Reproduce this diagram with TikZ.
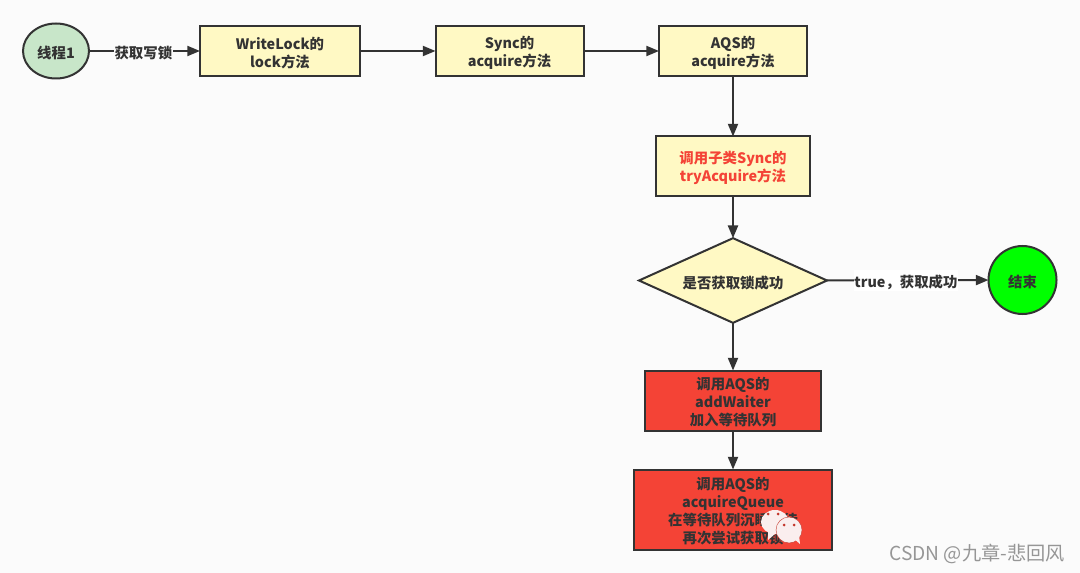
\documentclass[tikz,border=0pt]{standalone}
\usepackage{fontspec}
\setmainfont{Noto Sans CJK SC}
\usepackage{tikz}
\usetikzlibrary{shapes.geometric,arrows.meta,positioning}
\newcommand{\topgap}{\rule{0pt}{11.8pt}}
\definecolor{pagegrey}{RGB}{251,251,251}
\definecolor{inkgrey}{RGB}{51,51,51}
\definecolor{boxyellow}{RGB}{255,249,196}
\definecolor{softgreen}{RGB}{200,230,201}
\definecolor{hotred}{RGB}{244,67,54}
\definecolor{endgreen}{RGB}{0,255,0}
\definecolor{markgrey}{RGB}{150,150,150}
\definecolor{bubble}{RGB}{250,238,238}

\begin{document}
\begin{tikzpicture}[x=0.75pt,y=-0.75pt,font=\bfseries\fontsize{10.8pt}{13.5pt}\selectfont,text=inkgrey,
  base/.style={draw=inkgrey,line width=1.5pt,align=center,inner sep=0pt,outer sep=0pt},
  yel/.style={base,rectangle,fill=boxyellow,minimum height=37.5pt},
  redbox/.style={base,rectangle,fill=hotred,minimum height=45pt},
  arr/.style={-{Triangle[length=9.5pt,width=7.5pt]},line width=1.5pt,draw=inkgrey},
  lbl/.style={fill=#1,inner sep=0.5pt,text=inkgrey}]
\useasboundingbox[fill=pagegrey] (0,0) rectangle (1080,573);
\node[base,ellipse,fill=softgreen,minimum width=49.5pt,minimum height=41.25pt,execute at begin node=\rule{0pt}{13pt}] (thread) at (56,51) {线程1};
\node[yel,minimum width=120pt] (wlock) at (280,51) {\topgap WriteLock的\\lock方法};
\node[yel,minimum width=111pt] (sync) at (509.5,51) {\topgap Sync的\\acquire方法};
\node[yel,minimum width=111pt] (aqs) at (733,51) {\topgap AQS的\\acquire方法};
\node[yel,minimum width=115pt,minimum height=45pt,text=hotred] (tryacq) at (733,166.5) {\topgap 调用子类Sync的\\tryAcquire方法};
\node[base,diamond,aspect=2.2,fill=boxyellow,minimum width=141pt,minimum height=63.5pt,execute at begin node=\rule{0pt}{13pt}] (ok) at (733,280.5) {是否获取锁成功};
\node[base,circle,fill=endgreen,minimum size=51pt,execute at begin node=\rule{0pt}{13pt}] (fin) at (1022.5,280) {结束};
\node[redbox,minimum width=132pt] (waiter) at (733,400.5) {\topgap 调用AQS的\\addWaiter\\加入等待队列};
\node[redbox,minimum width=148.5pt,minimum height=60pt] (queue) at (733,509.5) {\topgap 调用AQS的\\acquireQueue\\在等待队列沉睡等待\\再次尝试获取锁};
\draw[arr] (thread) -- node[lbl=pagegrey,pos=0.49]{\rule{0pt}{13pt}获取写锁} (wlock);
\draw[arr] (wlock) -- (sync);
\draw[arr] (sync) -- (aqs);
\draw[arr] (aqs) -- (tryacq);
\draw[arr] (tryacq) -- (ok);
\draw[arr] (ok) -- node[lbl=white,pos=0.49]{\rule{0pt}{13pt}true，获取成功} (fin);
\draw[arr] (ok) -- (waiter);
\draw[arr] (waiter) -- (queue);
% watermark
\fill[bubble] (775,522) ellipse [x radius=14,y radius=12];
\fill[bubble] (768,531) -- (768,540) -- (776,533) -- cycle;
\fill[bubble,draw=hotred!80!black,line width=0.3pt] (789,530) circle [radius=13];
\fill[bubble] (793,538) -- (800,544) -- (799,535) -- cycle;
\foreach \px/\py in {768/514,778/514,784/525,794/525}
  \fill[hotred!80!black] (\px,\py) circle [radius=1.5];
\node[font=\fontsize{14.4pt}{16pt}\selectfont,text=markgrey,anchor=east,inner sep=0pt] (mark) at (1065,554) {CSDN @九章-悲回风};
\end{tikzpicture}
\end{document}
